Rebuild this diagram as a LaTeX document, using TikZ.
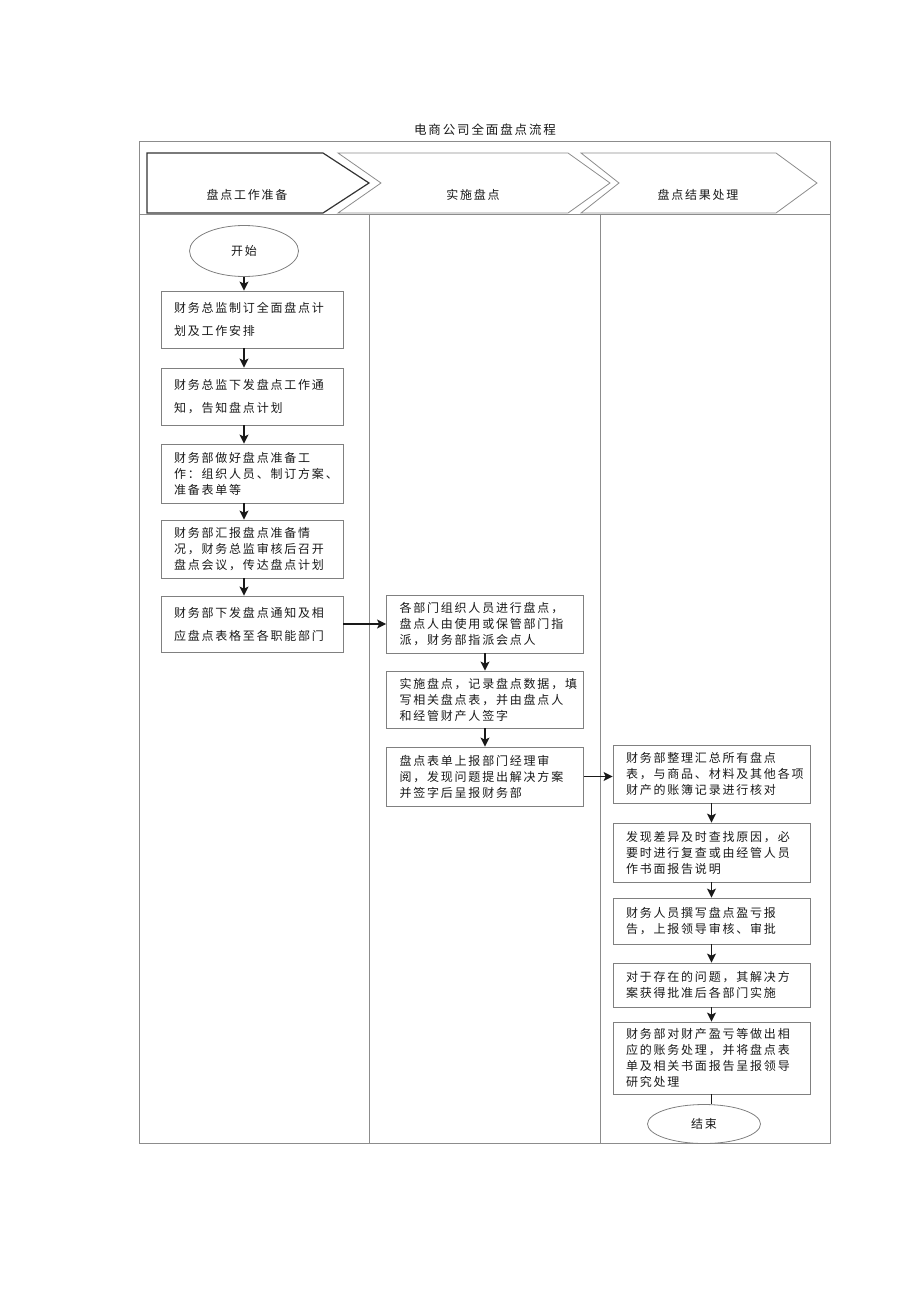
\documentclass[tikz,border=0pt]{standalone}
\usepackage{fontspec}
\newfontfamily\cjk[LetterSpace=15]{Noto Sans CJK SC}
\usetikzlibrary{shapes.geometric,arrows.meta}

\begin{document}
\begin{tikzpicture}[x=1pt,y=-1pt]
                        \tikzstyle{every node}=[font=\cjk\fontsize{12}{16}\selectfont, text=black!90]
                        \tikzstyle{lane}=[draw=black!45, line width=0.8pt]
                        \tikzstyle{stepbox}=[draw=black!50, line width=0.8pt, minimum height=57pt, inner xsep=13pt, align=left]
                        \tikzstyle{leftbox}=[stepbox, text width=156pt]
                        \tikzstyle{rightbox}=[stepbox, text width=171pt]
                        \tikzstyle{ends}=[ellipse, draw=black!50, line width=0.8pt, inner sep=0pt]
                        \tikzstyle{arr}=[-{Stealth[length=9pt,width=9pt,inset=2pt]}, line width=1.4pt, black!90]
                        \useasboundingbox (0,0) rectangle (920,1301);
                        \node[font=\cjk\fontsize{12.5}{15}\selectfont] (title) at (485,130) {电商公司全面盘点流程};
                        \draw[lane] (139,141) rectangle (830,1143);
                        \draw[lane] (139,214) -- (830,214);
                        \draw[lane] (369,214) -- (369,1143);
                        \draw[lane] (600,214) -- (600,1143);
                        \draw[black!80, line width=1.2pt] (147,153) -- (323,153) -- (369,183) -- (323,213) -- (147,213) -- cycle;
                        \draw[lane] (338,153) -- (568,153) -- (610,183) -- (568,213) -- (338,213) -- (381,183) -- cycle;
                        \draw[lane] (581,153) -- (776,153) -- (817,183) -- (776,213) -- (581,213) -- (619,183) -- cycle;
                        \node (prep) at (247,195) {盘点工作准备};
                        \node (exec) at (473,195) {实施盘点};
                        \node (result) at (698,195) {盘点结果处理};
                        \node[ends, minimum width=109pt, minimum height=51pt] (start) at (244,251) {开始};
                        \node[leftbox] (b1) at (252,319.5) {财务总监制订全面盘点计\\[7pt]划及工作安排};
                        \node[leftbox] (b2) at (252,396.5) {财务总监下发盘点工作通\\[7pt]知，告知盘点计划};
                        \node[leftbox, minimum height=59pt] (b3) at (252,473.5) {财务部做好盘点准备工\\作：组织人员、制订方案、\\准备表单等};
                        \node[leftbox, minimum height=58pt] (b4) at (252,549) {财务部汇报盘点准备情\\况，财务总监审核后召开\\盘点会议，传达盘点计划};
                        \node[leftbox, minimum height=56pt] (b5) at (252,624) {财务部下发盘点通知及相\\[7pt]应盘点表格至各职能部门};
                        \node[rightbox, minimum height=58pt] (b6) at (485,624) {各部门组织人员进行盘点，\\盘点人由使用或保管部门指\\派，财务部指派会点人};
                        \node[rightbox] (b7) at (485,699.5) {实施盘点，记录盘点数据，填\\写相关盘点表，并由盘点人\\和经管财产人签字};
                        \node[rightbox, minimum height=59pt] (b8) at (485,776.5) {盘点表单上报部门经理审\\阅，发现问题提出解决方案\\并签字后呈报财务部};
                        \node[rightbox, minimum height=58pt] (b9) at (711.5,774) {财务部整理汇总所有盘点\\表，与商品、材料及其他各项\\财产的账簿记录进行核对};
                        \node[rightbox, minimum height=59pt] (b10) at (711.5,852.5) {发现差异及时查找原因，必\\要时进行复查或由经管人员\\作书面报告说明};
                        \node[rightbox, minimum height=46pt] (b11) at (711.5,921) {财务人员撰写盘点盈亏报\\告，上报领导审核、审批};
                        \node[rightbox, minimum height=44pt] (b12) at (711.5,985) {对于存在的问题，其解决方\\案获得批准后各部门实施};
                        \node[rightbox, minimum height=72pt] (b13) at (711.5,1058) {财务部对财产盈亏等做出相\\应的账务处理，并将盘点表\\单及相关书面报告呈报领导\\研究处理};
                        \node[ends, minimum width=113pt, minimum height=39pt] (stop) at (704,1124) {结束};
                        \draw[arr] (start) -- (start |- b1.north);
                        \draw[arr] (b1.south -| start) -- (b2.north -| start);
                        \draw[arr] (b2.south -| start) -- (b3.north -| start);
                        \draw[arr] (b3.south -| start) -- (b4.north -| start);
                        \draw[arr] (b4.south -| start) -- (b5.north -| start);
                        \draw[arr] (b5.east) -- (b6.west);
                        \draw[arr] (b6) -- (b7);
                        \draw[arr] (b7) -- (b8);
                        \draw[arr] (b8.east) -- (b8.east -| b9.west);
                        \draw[arr] (b9) -- (b10);
                        \draw[arr] (b10) -- (b11);
                        \draw[arr] (b11) -- (b12);
                        \draw[arr] (b12) -- (b13);
                        \draw[line width=1.4pt, black!90] (b13.south) -- (b13.south |- stop.north);
                    \end{tikzpicture}
\end{document}
